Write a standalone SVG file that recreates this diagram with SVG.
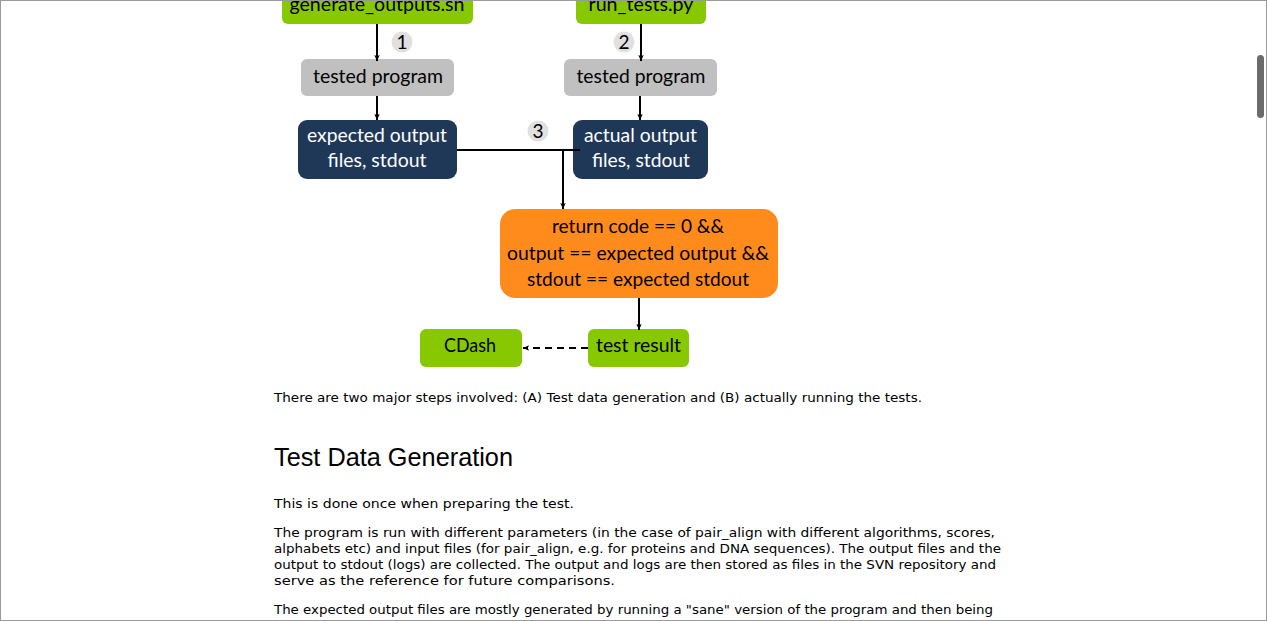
<svg xmlns="http://www.w3.org/2000/svg" width="1267" height="621" viewBox="0 0 1267 621">
<defs>
<style>
.lbl{font-family:Lato,"Open Sans","Liberation Sans",sans-serif;font-size:19px;text-anchor:middle;}
.dark{fill:#000;}
.light{fill:#fff;}
.green{fill:#88c800;}
.gray{fill:#c0c0c0;}
.navy{fill:#1f3858;}
.orange{fill:#ff8b1c;}
.step{fill:#e0e0e0;}
.num{font-family:Lato,"Open Sans","Liberation Sans",sans-serif;font-size:19px;text-anchor:middle;fill:#000;}
.conn{stroke:#000;stroke-width:2;fill:none;}
.body{font-family:"DejaVu Sans",Verdana,sans-serif;font-size:12px;fill:#000;}
.h2{font-family:"Liberation Sans",Arial,sans-serif;font-size:25px;fill:#000;}
</style>
<marker id="arr" markerWidth="7" markerHeight="7" refX="6" refY="3.5" orient="auto" markerUnits="userSpaceOnUse">
<path d="M0,0.8 L6,3.5 L0,6.2 L1.2,3.5 z" fill="#000"/>
</marker>
</defs>
<rect x="0" y="0" width="1267" height="621" fill="#fff"/>

<g id="node-generate">
<rect class="green" x="282" y="-14" width="191" height="38" rx="6"/>
<text class="lbl dark" x="377" y="11" textLength="175" lengthAdjust="spacingAndGlyphs">generate_outputs.sh</text>
</g>
<g id="node-runtests">
<rect class="green" x="576" y="-14" width="130" height="38" rx="6"/>
<text class="lbl dark" x="641" y="11" textLength="105" lengthAdjust="spacingAndGlyphs">run_tests.py</text>
</g>
<g id="node-tested1">
<rect class="gray" x="301" y="59" width="153" height="37" rx="6"/>
<text class="lbl dark" x="378" y="83" textLength="130" lengthAdjust="spacingAndGlyphs">tested program</text>
</g>
<g id="node-tested2">
<rect class="gray" x="564" y="59" width="153" height="37" rx="6"/>
<text class="lbl dark" x="641" y="83" textLength="129" lengthAdjust="spacingAndGlyphs">tested program</text>
</g>
<g id="node-expected">
<rect class="navy" x="298" y="120" width="159" height="59" rx="9"/>
<text class="lbl light" x="377" y="142" textLength="140" lengthAdjust="spacingAndGlyphs">expected output</text>
<text class="lbl light" x="377" y="167" textLength="99" lengthAdjust="spacingAndGlyphs">files, stdout</text>
</g>
<g id="node-actual">
<rect class="navy" x="573" y="120" width="135" height="59" rx="9"/>
<text class="lbl light" x="640.5" y="142" textLength="113" lengthAdjust="spacingAndGlyphs">actual output</text>
<text class="lbl light" x="641" y="167" textLength="98" lengthAdjust="spacingAndGlyphs">files, stdout</text>
</g>
<g id="node-check">
<rect class="orange" x="500" y="209" width="278" height="89" rx="15"/>
<text class="lbl dark" x="638" y="233" textLength="172" lengthAdjust="spacingAndGlyphs">return code == 0 &amp;&amp;</text>
<text class="lbl dark" x="638" y="260" textLength="262" lengthAdjust="spacingAndGlyphs">output == expected output &amp;&amp;</text>
<text class="lbl dark" x="638" y="286" textLength="222" lengthAdjust="spacingAndGlyphs">stdout == expected stdout</text>
</g>
<g id="node-result">
<rect class="green" x="588" y="329" width="101" height="38" rx="6"/>
<text class="lbl dark" x="638.5" y="352" textLength="85" lengthAdjust="spacingAndGlyphs">test result</text>
</g>
<g id="node-cdash">
<rect class="green" x="420" y="329" width="102" height="38" rx="6"/>
<text class="lbl dark" x="470" y="352" textLength="52" lengthAdjust="spacingAndGlyphs">CDash</text>
</g>

<g id="connectors">
<line class="conn" x1="377" y1="24" x2="377" y2="61" marker-end="url(#arr)"/>
<line class="conn" x1="641" y1="24" x2="641" y2="61" marker-end="url(#arr)"/>
<line class="conn" x1="377" y1="96" x2="377" y2="120" marker-end="url(#arr)"/>
<line class="conn" x1="640" y1="96" x2="640" y2="120" marker-end="url(#arr)"/>
<line class="conn" x1="457" y1="150" x2="580" y2="150"/>
<line class="conn" x1="563" y1="149" x2="563" y2="209" marker-end="url(#arr)"/>
<line class="conn" x1="639" y1="298" x2="639" y2="330" marker-end="url(#arr)"/>
<line class="conn" x1="588" y1="348" x2="523" y2="348" stroke-dasharray="7,5" marker-end="url(#arr)"/>
</g>

<g id="step-labels">
<circle class="step" cx="402" cy="42" r="10.5"/>
<text class="num" x="402" y="49">1</text>
<circle class="step" cx="624" cy="42" r="10.5"/>
<text class="num" x="624" y="49">2</text>
<circle class="step" cx="538" cy="131" r="10.5"/>
<text class="num" x="538" y="138">3</text>
</g>

<g id="page-text">
<text class="body" x="274" y="402" textLength="648" lengthAdjust="spacingAndGlyphs">There are two major steps involved: (A) Test data generation and (B) actually running the tests.</text>
<text class="h2" x="274" y="466" textLength="239" lengthAdjust="spacingAndGlyphs">Test Data Generation</text>
<text class="body" x="274" y="508" textLength="300" lengthAdjust="spacingAndGlyphs">This is done once when preparing the test.</text>
<text class="body" x="274" y="537" textLength="721" lengthAdjust="spacingAndGlyphs">The program is run with different parameters (in the case of pair_align with different algorithms, scores,</text>
<text class="body" x="274" y="553" textLength="727" lengthAdjust="spacingAndGlyphs">alphabets etc) and input files (for pair_align, e.g. for proteins and DNA sequences). The output files and the</text>
<text class="body" x="274" y="569" textLength="722" lengthAdjust="spacingAndGlyphs">output to stdout (logs) are collected. The output and logs are then stored as files in the SVN repository and</text>
<text class="body" x="274" y="585" textLength="341" lengthAdjust="spacingAndGlyphs">serve as the reference for future comparisons.</text>
<text class="body" x="274" y="614" textLength="719" lengthAdjust="spacingAndGlyphs">The expected output files are mostly generated by running a "sane" version of the program and then being</text>
</g>

<g id="frame">
<rect x="0.5" y="0.5" width="1266" height="620" fill="none" stroke="#9a9a9a" stroke-width="1"/>
<rect x="1257" y="55" width="7" height="63" rx="3.5" fill="#6b6b6b"/>
</g>
</svg>
